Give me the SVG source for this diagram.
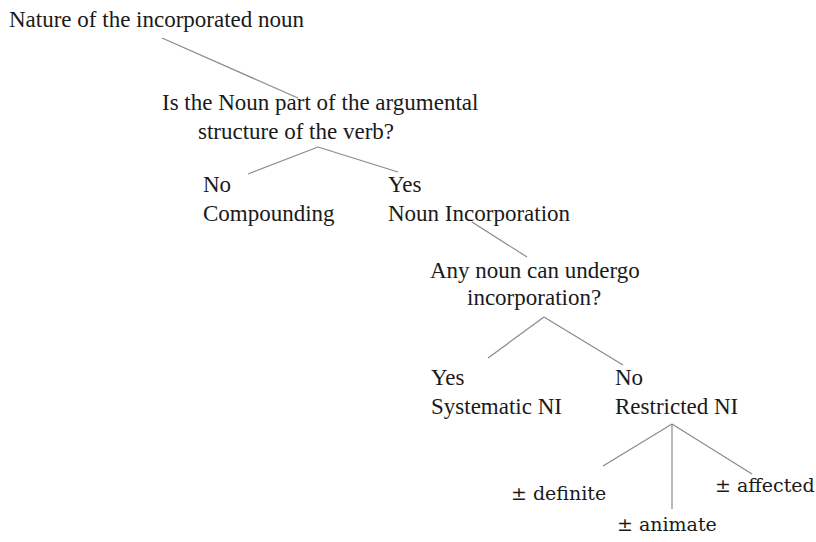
<svg xmlns="http://www.w3.org/2000/svg" width="816" height="542" viewBox="0 0 816 542">
  <style>
    text { font-family: "Liberation Serif", "Times New Roman", serif; font-size: 23px; fill: #1a1a1a; }
    .pm { font-family: "DejaVu Serif", "Liberation Serif", serif; font-size: 19px; }
    .edge { stroke: #8a8a8a; stroke-width: 1.2; fill: none; }
  </style>
  <rect width="816" height="542" fill="#ffffff"/>

  <g id="connectors">
    <line class="edge" x1="162" y1="38" x2="298" y2="98"/>
    <line class="edge" x1="318" y1="147" x2="248" y2="174"/>
    <line class="edge" x1="318" y1="147" x2="398" y2="172"/>
    <line class="edge" x1="472" y1="222" x2="527" y2="257"/>
    <line class="edge" x1="544" y1="317" x2="488" y2="358"/>
    <line class="edge" x1="544" y1="317" x2="623" y2="365"/>
    <line class="edge" x1="672" y1="424" x2="603" y2="466"/>
    <line class="edge" x1="672" y1="424" x2="672" y2="509"/>
    <line class="edge" x1="672" y1="424" x2="752" y2="474"/>
  </g>

  <g id="root">
    <text x="9" y="27">Nature of the incorporated noun</text>
  </g>
  <g id="q-argument">
    <text x="162" y="110">Is the Noun part of the argumental</text>
    <text x="296" y="139" text-anchor="middle">structure of the verb?</text>
  </g>
  <g id="compounding">
    <text x="203" y="192">No</text>
    <text x="203" y="221">Compounding</text>
  </g>
  <g id="noun-incorporation">
    <text x="388" y="192">Yes</text>
    <text x="388" y="221">Noun Incorporation</text>
  </g>
  <g id="q-any-noun">
    <text x="430" y="278">Any noun can undergo</text>
    <text x="467" y="305">incorporation?</text>
  </g>
  <g id="systematic-ni">
    <text x="431" y="385">Yes</text>
    <text x="431" y="414">Systematic NI</text>
  </g>
  <g id="restricted-ni">
    <text x="615" y="385">No</text>
    <text x="615" y="414">Restricted NI</text>
  </g>
  <g id="definite">
    <text class="pm" x="511" y="500">± definite</text>
  </g>
  <g id="animate">
    <text class="pm" x="617" y="531">± animate</text>
  </g>
  <g id="affected">
    <text class="pm" x="715" y="492">± affected</text>
  </g>
</svg>
